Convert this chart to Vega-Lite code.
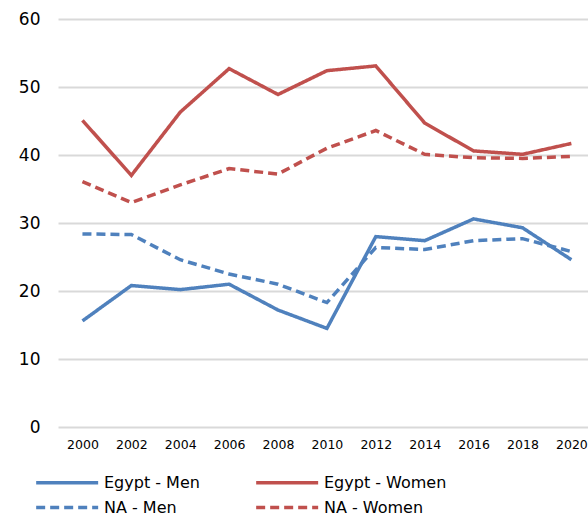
{
  "$schema": "https://vega.github.io/schema/vega-lite/v6.json",
  "width": 530,
  "height": 408,
  "autosize": {"type": "none"},
  "padding": {"left": 58, "top": 19, "right": 0, "bottom": 90},
  "config": {
    "view": {"stroke": null},
    "font": "DejaVu Sans",
    "axis": {"labelColor": "#000000", "labelFont": "DejaVu Sans"},
    "legend": {"labelColor": "#000000", "labelFont": "DejaVu Sans"}
  },
  "data": {
    "values": [
      {"year": 2000, "series": "Egypt - Men", "value": 15.6},
      {"year": 2002, "series": "Egypt - Men", "value": 20.8},
      {"year": 2004, "series": "Egypt - Men", "value": 20.2},
      {"year": 2006, "series": "Egypt - Men", "value": 21.0},
      {"year": 2008, "series": "Egypt - Men", "value": 17.2},
      {"year": 2010, "series": "Egypt - Men", "value": 14.5},
      {"year": 2012, "series": "Egypt - Men", "value": 28.0},
      {"year": 2014, "series": "Egypt - Men", "value": 27.4},
      {"year": 2016, "series": "Egypt - Men", "value": 30.6},
      {"year": 2018, "series": "Egypt - Men", "value": 29.3},
      {"year": 2020, "series": "Egypt - Men", "value": 24.6},
      {"year": 2000, "series": "Egypt - Women", "value": 45.1},
      {"year": 2002, "series": "Egypt - Women", "value": 37.0},
      {"year": 2004, "series": "Egypt - Women", "value": 46.3},
      {"year": 2006, "series": "Egypt - Women", "value": 52.7},
      {"year": 2008, "series": "Egypt - Women", "value": 48.9},
      {"year": 2010, "series": "Egypt - Women", "value": 52.4},
      {"year": 2012, "series": "Egypt - Women", "value": 53.1},
      {"year": 2014, "series": "Egypt - Women", "value": 44.7},
      {"year": 2016, "series": "Egypt - Women", "value": 40.6},
      {"year": 2018, "series": "Egypt - Women", "value": 40.1},
      {"year": 2020, "series": "Egypt - Women", "value": 41.7},
      {"year": 2000, "series": "NA - Men", "value": 28.4},
      {"year": 2002, "series": "NA - Men", "value": 28.3},
      {"year": 2004, "series": "NA - Men", "value": 24.6},
      {"year": 2006, "series": "NA - Men", "value": 22.5},
      {"year": 2008, "series": "NA - Men", "value": 21.0},
      {"year": 2010, "series": "NA - Men", "value": 18.3},
      {"year": 2012, "series": "NA - Men", "value": 26.4},
      {"year": 2014, "series": "NA - Men", "value": 26.1},
      {"year": 2016, "series": "NA - Men", "value": 27.4},
      {"year": 2018, "series": "NA - Men", "value": 27.7},
      {"year": 2020, "series": "NA - Men", "value": 25.8},
      {"year": 2000, "series": "NA - Women", "value": 36.1},
      {"year": 2002, "series": "NA - Women", "value": 33.0},
      {"year": 2004, "series": "NA - Women", "value": 35.6},
      {"year": 2006, "series": "NA - Women", "value": 38.0},
      {"year": 2008, "series": "NA - Women", "value": 37.2},
      {"year": 2010, "series": "NA - Women", "value": 41.0},
      {"year": 2012, "series": "NA - Women", "value": 43.6},
      {"year": 2014, "series": "NA - Women", "value": 40.1},
      {"year": 2016, "series": "NA - Women", "value": 39.6},
      {"year": 2018, "series": "NA - Women", "value": 39.5},
      {"year": 2020, "series": "NA - Women", "value": 39.8}
    ]
  },
  "mark": {"type": "line", "strokeWidth": 3.5, "strokeCap": "butt", "clip": false},
  "encoding": {
    "x": {
      "field": "year",
      "type": "quantitative",
      "scale": {"domain": [1999, 2020.68], "nice": false, "zero": false},
      "axis": {
        "title": null,
        "values": [2000, 2002, 2004, 2006, 2008, 2010, 2012, 2014, 2016, 2018, 2020],
        "format": "d",
        "grid": false,
        "domain": false,
        "ticks": false,
        "labelFontSize": 12.5,
        "labelPadding": 11,
        "labelFlush": false,
        "labelOverlap": false
      }
    },
    "y": {
      "field": "value",
      "type": "quantitative",
      "scale": {"domain": [0, 60], "nice": false},
      "axis": {
        "title": null,
        "values": [0, 10, 20, 30, 40, 50, 60],
        "domain": false,
        "ticks": false,
        "gridColor": "#D9D9D9",
        "gridWidth": 1.8,
        "labelFontSize": 17,
        "labelPadding": 18
      }
    },
    "color": {
      "field": "series",
      "type": "nominal",
      "scale": {
        "domain": ["Egypt - Men", "NA - Men", "Egypt - Women", "NA - Women"],
        "range": ["#4F81BD", "#4F81BD", "#C0504D", "#C0504D"]
      },
      "legend": {
        "title": null,
        "orient": "none",
        "legendX": -24,
        "legendY": 451,
        "columns": 2,
        "columnPadding": 49,
        "rowPadding": 4,
        "padding": 0,
        "symbolType": "M-1,0H5",
        "symbolSize": 427,
        "symbolStrokeWidth": 3.5,
        "labelFontSize": 16,
        "labelOffset": 45
      }
    },
    "strokeDash": {
      "field": "series",
      "type": "nominal",
      "scale": {
        "domain": ["Egypt - Men", "NA - Men", "Egypt - Women", "NA - Women"],
        "range": [[1, 0], [9, 5], [1, 0], [9, 5]]
      },
      "legend": {
        "title": null,
        "orient": "none",
        "legendX": -24,
        "legendY": 451,
        "columns": 2,
        "columnPadding": 49,
        "rowPadding": 4,
        "padding": 0,
        "symbolType": "M-1,0H5",
        "symbolSize": 427,
        "symbolStrokeWidth": 3.5,
        "labelFontSize": 16,
        "labelOffset": 45
      }
    }
  }
}
